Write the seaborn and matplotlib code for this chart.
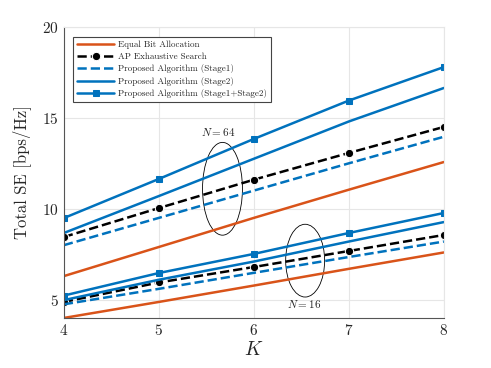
import numpy as np
import pandas as pd
import matplotlib
matplotlib.use("Agg")
import matplotlib.pyplot as plt
import seaborn as sns
from matplotlib.patches import Ellipse

# data
K = [4, 5, 6, 7, 8]

equal_64 = [6.3, 7.9, 9.5, 11.05, 12.57]
ap_64 = [8.45, 10.04, 11.6, 13.07, 14.5]
stage1_64 = [8.0, 9.5, 11.0, 12.5, 13.96]
stage2_64 = [8.67, 10.7, 12.75, 14.8, 16.64]
stage12_64 = [9.49, 11.64, 13.84, 15.95, 17.79]

equal_16 = [4.0, 4.88, 5.78, 6.7, 7.6]
ap_16 = [4.88, 5.95, 6.8, 7.68, 8.56]
stage1_16 = [4.75, 5.6, 6.48, 7.35, 8.2]
stage2_16 = [4.98, 6.1, 7.1, 8.2, 9.27]
stage12_16 = [5.23, 6.47, 7.52, 8.67, 9.77]

labels = ["Equal Bit Allocation", "AP Exhaustive Search",
          "Proposed Algorithm (Stage1)", "Proposed Algorithm (Stage2)",
          "Proposed Algorithm (Stage1+Stage2)"]

orange = "#D95319"
blue = "#0072BD"

sns.set_style("white")
plt.rcParams["font.family"] = ["cmr10", "DejaVu Serif"]
plt.rcParams["mathtext.fontset"] = "cm"
plt.rcParams["axes.formatter.use_mathtext"] = True

fig = plt.figure(figsize=(4.91, 3.68), dpi=100)
ax = fig.add_axes([0.130, 0.136, 0.774, 0.791])

styles = [
    dict(color=orange, linestyle="-", marker=None),
    dict(color="black", linestyle="--", marker="o", markersize=6),
    dict(color=blue, linestyle="--", marker=None),
    dict(color=blue, linestyle="-", marker=None),
    dict(color=blue, linestyle="-", marker="s", markersize=5,
         markeredgecolor=blue, markerfacecolor=blue),
]

groups = [
    [equal_64, ap_64, stage1_64, stage2_64, stage12_64],
    [equal_16, ap_16, stage1_16, stage2_16, stage12_16],
]

for gi, series in enumerate(groups):
    for i, vals in enumerate(series):
        df = pd.DataFrame({"K": K, "SE": vals})
        sns.lineplot(data=df, x="K", y="SE", ax=ax, linewidth=1.8,
                     label=labels[i] if gi == 0 else None, legend=False,
                     **styles[i])

# ellipses marking the N groups
ax.add_patch(Ellipse((5.67, 11.1), 0.42, 5.1, fill=False, edgecolor="black", linewidth=0.6))
ax.add_patch(Ellipse((6.54, 7.15), 0.41, 4.0, fill=False, edgecolor="black", linewidth=0.6))
ax.text(5.62, 14.2, r"$N = 64$", ha="center", va="center", fontsize=8)
ax.text(6.53, 4.75, r"$N = 16$", ha="center", va="center", fontsize=8)

ax.set_xlim(4, 8)
ax.set_ylim(4, 20)
ax.set_xticks([4, 5, 6, 7, 8])
ax.set_yticks([5, 10, 15, 20])
ax.tick_params(labelsize=11, direction="in", length=3, color="#555555")
ax.grid(True, color="#e6e6e6", linewidth=0.8)
for side in ["left", "bottom"]:
    ax.spines[side].set_color("#555555")
    ax.spines[side].set_linewidth(0.8)
for side in ["top", "right"]:
    ax.spines[side].set_color("#e6e6e6")
    ax.spines[side].set_linewidth(0.8)

ax.set_xlabel(r"$K$", fontsize=14, labelpad=2)
ax.set_ylabel("Total SE [bps/Hz]", fontsize=12, labelpad=8)

leg = ax.legend(loc="upper left", fontsize=6.5, handlelength=4.2, handletextpad=0.4,
                labelspacing=0.38, borderpad=0.4, borderaxespad=0, fancybox=False,
                framealpha=1, edgecolor="#444444", bbox_to_anchor=(0.024, 0.965))
leg.get_frame().set_linewidth(0.8)

fig.savefig("out.png", dpi=100)
